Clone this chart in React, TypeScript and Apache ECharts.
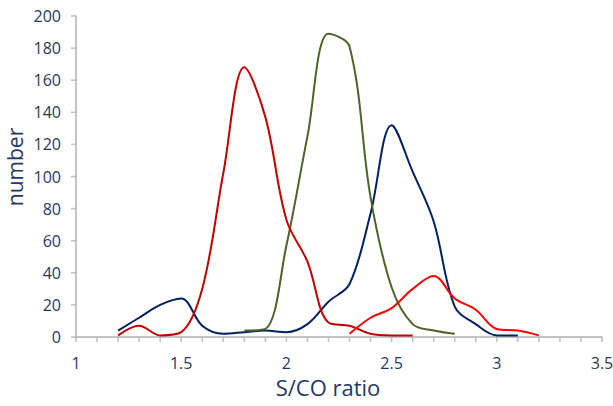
import React, { useEffect, useRef } from "react";
import * as echarts from "echarts";

const darkRedX = [1.2, 1.3, 1.4, 1.5, 1.6, 1.7, 1.8, 1.9, 2.0, 2.1, 2.2, 2.3, 2.4, 2.5, 2.6];
const darkRedY = [1, 7, 1, 3, 30, 102, 168, 137, 73, 47, 9, 7, 2, 1, 1];

const greenX = [1.8, 1.9, 2.0, 2.1, 2.2, 2.3, 2.4, 2.5, 2.6, 2.7, 2.8];
const greenY = [4, 5, 57, 125, 189, 181, 87, 31, 8, 4, 2];

const navyX = [1.2, 1.3, 1.4, 1.5, 1.6, 1.7, 1.8, 1.9, 2.0, 2.1, 2.2, 2.3, 2.4, 2.5, 2.6, 2.7, 2.8, 2.9, 3.0, 3.1];
const navyY = [4, 12, 20, 24, 7, 2, 3, 4, 3, 8, 22, 33, 77, 132, 103, 72, 19, 8, 1, 1];

const redX = [2.3, 2.4, 2.5, 2.6, 2.7, 2.8, 2.9, 3.0, 3.1, 3.2];
const redY = [2, 12, 18, 30, 38, 24, 17, 5, 4, 1];

const xTicks = [1, 1.5, 2, 2.5, 3, 3.5];
const xTickMarks = [1.0, 1.1, 1.2, 1.3, 1.4, 1.5, 1.6, 1.7, 1.8, 1.9, 2.0, 2.1, 2.2, 2.3, 2.4, 2.5, 2.6, 2.7, 2.8, 2.9, 3.0, 3.1, 3.2, 3.3, 3.4, 3.5];
const yTickMarks = [0, 20, 40, 60, 80, 100, 120, 140, 160, 180, 200];

const pairs = (xs: number[], ys: number[]) => xs.map((x, i) => [x, ys[i]]);

const textColor = "#1F3864";
const axisColor = "#B0B0B0";
const font = "'Open Sans', sans-serif";

export default function App() {
  const ref = useRef<HTMLDivElement>(null);
  useEffect(() => {
    if (!ref.current) return;
    const chart = echarts.init(ref.current, undefined, { renderer: "svg" });
    const line = (name: string, color: string, data: number[][]) => ({
      name,
      type: "line",
      data,
      smooth: 0.35,
      showSymbol: false,
      symbol: "none",
      lineStyle: { color, width: 2 },
      itemStyle: { color },
    });
    chart.setOption({
      animation: false,
      grid: { left: 76, right: 11, top: 16, bottom: 69, containLabel: false, outerBoundsMode: "none" },
      graphic: [
        {
          type: "text",
          x: 15,
          y: 167,
          rotation: Math.PI / 2,
          style: {
            text: "number",
            fill: textColor,
            fontSize: 21,
            fontFamily: font,
            align: "center",
            verticalAlign: "middle",
          },
        },
      ],
      xAxis: {
        type: "value",
        min: 1,
        max: 3.5,
        interval: 0.1,
        name: "S/CO ratio",
        nameLocation: "middle",
        nameGap: 36,
        nameTextStyle: { color: textColor, fontSize: 22, fontFamily: font, padding: [0, 22, 0, 0] },
        axisLine: { show: true, onZero: false, lineStyle: { color: axisColor, width: 1.5 } },
        axisTick: { show: false },
        splitLine: { show: false },
        axisLabel: {
          color: textColor,
          fontSize: 16,
          fontFamily: font,
          margin: 18,
          formatter: (v: number) => {
            const t = xTicks.find((k) => Math.abs(k - v) < 1e-6);
            return t !== undefined ? String(t) : "";
          },
        },
      },
      yAxis: {
        type: "value",
        min: 0,
        max: 200,
        interval: 20,
        axisLine: { show: true, onZero: false, lineStyle: { color: axisColor, width: 1.5 } },
        axisTick: { show: false },
        splitLine: { show: false },
        axisLabel: { color: textColor, fontSize: 16, fontFamily: font, margin: 15 },
      },
      series: [
        {
          name: "xticks",
          type: "scatter",
          silent: true,
          clip: false,
          symbol: "rect",
          symbolSize: [1.5, 5],
          symbolOffset: [0, 2.5],
          itemStyle: { color: axisColor },
          data: xTickMarks.map((x) => [x, 0]),
          z: 1,
        },
        {
          name: "yticks",
          type: "scatter",
          silent: true,
          clip: false,
          symbol: "rect",
          symbolSize: [5, 1.5],
          symbolOffset: [-2.5, 0],
          itemStyle: { color: axisColor },
          data: yTickMarks.map((y) => [1, y]),
          z: 1,
        },
        line("navy", "#002060", pairs(navyX, navyY)),
        line("green", "#4F6228", pairs(greenX, greenY)),
        line("darkred", "#C00000", pairs(darkRedX, darkRedY)),
        line("red", "#FF0000", pairs(redX, redY)),
      ],
    });
    return () => chart.dispose();
  }, []);
  return <div ref={ref} style={{ width: 613, height: 406, position: "absolute", left: 0, top: 0 }} />;
}
